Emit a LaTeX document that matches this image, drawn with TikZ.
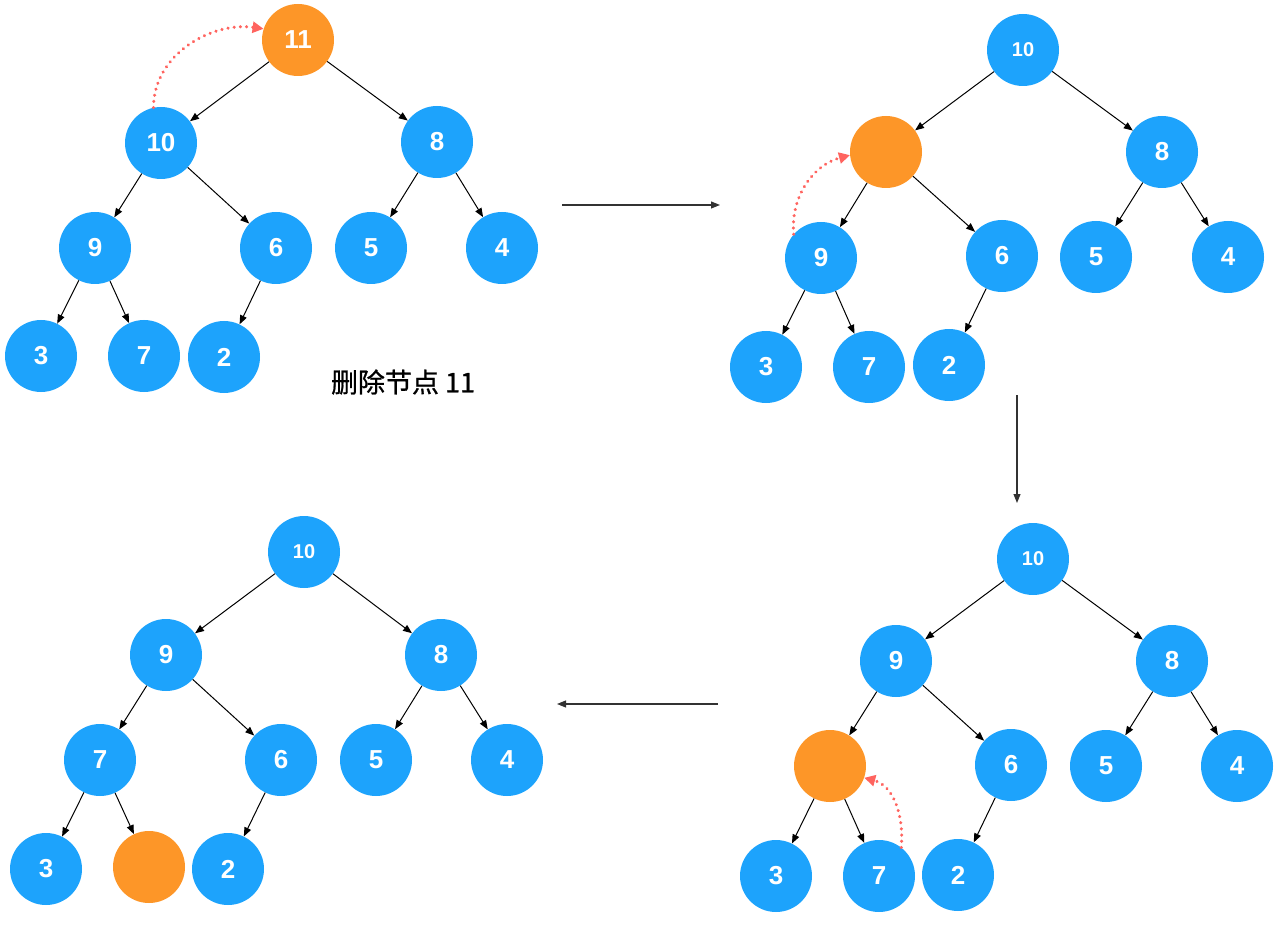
\documentclass[tikz,border=0pt]{standalone}
\usepackage{fontspec}
\setmainfont{Liberation Sans}
\newfontfamily\cjk[FakeBold=0.8]{Noto Sans CJK SC}
\usetikzlibrary{arrows.meta}
\definecolor{nblue}{RGB}{29,163,252}
\definecolor{norange}{RGB}{253,150,40}
\definecolor{nred}{RGB}{255,100,95}
\definecolor{ngray}{RGB}{50,50,50}
\tikzset{
  bnode/.style={circle,fill=nblue,minimum size=72pt,inner sep=0pt,text=white,font=\fontsize{26}{26}\selectfont\bfseries},
  rnode/.style={bnode,font=\fontsize{20}{20}\selectfont\bfseries},
  onode/.style={bnode,fill=norange},
  conn/.style={-{Triangle[length=9pt,width=7pt]},line width=1pt,black},
  bigarrow/.style={-{Triangle[length=9pt,width=7pt]},line width=1.1pt,ngray},
  swap/.style={-{Triangle[length=11pt,width=11pt]},nred,line width=3.4pt,dash pattern=on 0.01pt off 6.2pt,line cap=round},
}
\begin{document}
\begin{tikzpicture}[x=1pt,y=-1pt]
\useasboundingbox (0,0) rectangle (1280,925);
% ---------- Tree 1 ----------
\node[onode] (a11) at (298,40) {11};
\node[bnode] (a10) at (161,143) {10};
\node[bnode] (a8) at (437,142) {8};
\node[bnode] (a9) at (95,248) {9};
\node[bnode] (a6) at (276,248) {6};
\node[bnode] (a5) at (371,248) {5};
\node[bnode] (a4) at (502,248) {4};
\node[bnode] (a3) at (41,356) {3};
\node[bnode] (a7) at (144,356) {7};
\node[bnode] (a2) at (224,357) {2};
\draw[conn] (a11) -- (a10);
\draw[conn] (a11) -- (a8);
\draw[conn] (a10) -- (a9);
\draw[conn] (a10) -- (a6);
\draw[conn] (a8) -- (a5);
\draw[conn] (a8) -- (a4);
\draw[conn] (a9) -- (a3);
\draw[conn] (a9) -- (a7);
\draw[conn] (a6) -- (a2);
\draw[swap] (a10.102) to[out=90,in=172] (a11.162);
\node[font=\cjk\fontsize{27}{27}\selectfont] (cap) at (403,382) {删除节点 11};
% ---------- Tree 2 ----------
\node[rnode] (b10) at (1023,50) {10};
\node[onode] (bx) at (886,152) {};
\node[bnode] (b8) at (1162,152) {8};
\node[bnode] (b9) at (821,258) {9};
\node[bnode] (b6) at (1002,256) {6};
\node[bnode] (b5) at (1096,257) {5};
\node[bnode] (b4) at (1228,257) {4};
\node[bnode] (b3) at (766,367) {3};
\node[bnode] (b7) at (869,367) {7};
\node[bnode] (b2) at (949,365) {2};
\draw[conn] (b10) -- (bx);
\draw[conn] (b10) -- (b8);
\draw[conn] (bx) -- (b9);
\draw[conn] (bx) -- (b6);
\draw[conn] (b8) -- (b5);
\draw[conn] (b8) -- (b4);
\draw[conn] (b9) -- (b3);
\draw[conn] (b9) -- (b7);
\draw[conn] (b6) -- (b2);
\draw[swap] (b9.139) to[out=95,in=195] (bx.185);
% ---------- Tree 3 ----------
\node[rnode] (c10) at (1033,559) {10};
\node[bnode] (c9) at (896,661) {9};
\node[bnode] (c8) at (1172,661) {8};
\node[onode] (cx) at (830,766) {};
\node[bnode] (c6) at (1011,765) {6};
\node[bnode] (c5) at (1106,766) {5};
\node[bnode] (c4) at (1237,766) {4};
\node[bnode] (c3) at (776,876) {3};
\node[bnode] (c7) at (879,876) {7};
\node[bnode] (c2) at (958,875) {2};
\draw[conn] (c10) -- (c9);
\draw[conn] (c10) -- (c8);
\draw[conn] (c9) -- (cx);
\draw[conn] (c9) -- (c6);
\draw[conn] (c8) -- (c5);
\draw[conn] (c8) -- (c4);
\draw[conn] (cx) -- (c3);
\draw[conn] (cx) -- (c7);
\draw[conn] (c6) -- (c2);
\draw[swap] (c7.52) to[out=85,in=-15] (cx.341);
% ---------- Tree 4 ----------
\node[rnode] (d10) at (304,552) {10};
\node[bnode] (d9) at (166,655) {9};
\node[bnode] (d8) at (441,655) {8};
\node[bnode] (d7) at (100,760) {7};
\node[bnode] (d6) at (281,760) {6};
\node[bnode] (d5) at (376,760) {5};
\node[bnode] (d4) at (507,760) {4};
\node[bnode] (d3) at (46,869) {3};
\node[onode] (dx) at (149,867) {};
\node[bnode] (d2) at (228,869) {2};
\draw[conn] (d10) -- (d9);
\draw[conn] (d10) -- (d8);
\draw[conn] (d9) -- (d7);
\draw[conn] (d9) -- (d6);
\draw[conn] (d8) -- (d5);
\draw[conn] (d8) -- (d4);
\draw[conn] (d7) -- (d3);
\draw[conn] (d7) -- (dx);
\draw[conn] (d6) -- (d2);
% ---------- step arrows ----------
\coordinate (s1a) at (562,205);
\coordinate (s1b) at (720,205);
\coordinate (s2a) at (1017,395);
\coordinate (s2b) at (1017,503);
\coordinate (s3a) at (718,704);
\coordinate (s3b) at (557,704);
\draw[bigarrow] (s1a) -- (s1b);
\draw[bigarrow] (s2a) -- (s2b);
\draw[bigarrow] (s3a) -- (s3b);
\end{tikzpicture}
\end{document}
